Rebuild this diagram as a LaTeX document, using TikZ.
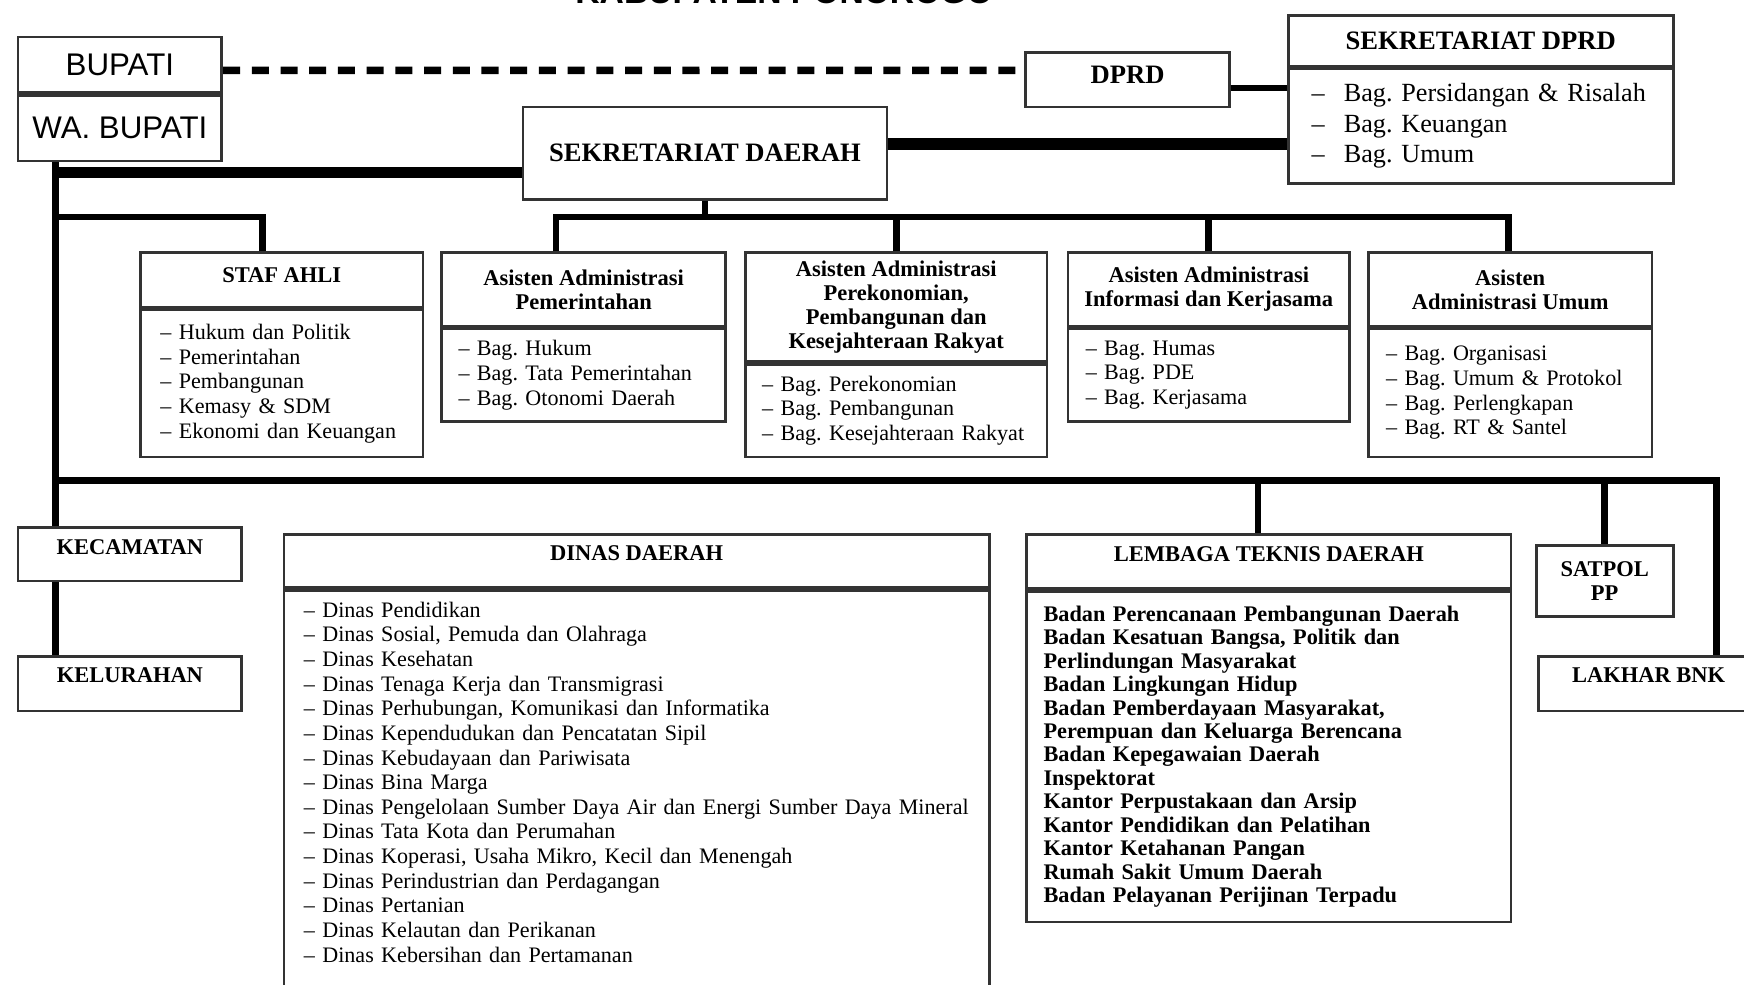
\documentclass[tikz,border=0pt]{standalone}
\usepackage{fontspec}
\setmainfont{Liberation Serif}
\newfontfamily\arialfont{Liberation Sans}
\frenchspacing
\begin{document}
\begin{tikzpicture}[x=0.01cm, y=-0.01cm,
  box/.style={draw=black!80, line width=0.7pt, inner sep=0pt, anchor=north west},
  sans/.style={box, font=\arialfont\fontsize{8}{9}\selectfont},
  big/.style={box, align=center, font=\fontsize{6.8}{8}\selectfont\bfseries},
  hd/.style={box, align=center, font=\fontsize{5.75}{6.1}\selectfont\bfseries},
  lst/.style={box, align=left, font=\fontsize{5.65}{6.3}\selectfont\frenchspacing},
  conn/.style={line width=1.7pt},
  tebal/.style={line width=3pt},
  putus/.style={line width=1.9pt, dash pattern=on 0.153cm off 0.105cm}]
\useasboundingbox (0,0) rectangle (1568,885);
\clip (0,0) rectangle (1568,885);
\node[anchor=base, font=\arialfont\bfseries\fontsize{8.6}{9}\selectfont] (judul) at (705,3) {KABUPATEN PONOROGO};
% pimpinan dan dprd
\node[sans, minimum width=1.83cm, minimum height=0.5cm] (bupati) at (15,32) {BUPATI};
\node[sans, minimum width=1.83cm, minimum height=0.59cm] (wabupati) at (bupati.south west) {WA. BUPATI};
\node[big, minimum width=1.83cm, minimum height=0.49cm, text depth=2.6pt] (dprd) at (921,46) {DPRD};
\node[big, minimum width=3.46cm, minimum height=0.45cm] (sekdprd) at (1157,13) {SEKRETARIAT DPRD};
\node[lst, text width=3.04cm, inner xsep=0.21cm, minimum height=1.03cm, font=\fontsize{6.7}{7.8}\selectfont\frenchspacing] (sekdprdB) at (sekdprd.south west)
  {\makebox[0.29cm][l]{–}Bag. Persidangan \& Risalah\\\makebox[0.29cm][l]{–}Bag. Keuangan\\\makebox[0.29cm][l]{–}Bag. Umum};
\node[big, minimum width=3.27cm, minimum height=0.83cm] (sekda) at (469,95) {SEKRETARIAT DAERAH};
% staf ahli dan asisten
\node[hd, minimum width=2.54cm, minimum height=0.49cm, text depth=2.6pt] (staf) at (125,226) {STAF AHLI};
\node[lst, text width=2.18cm, inner xsep=0.18cm, minimum height=1.32cm] (stafB) at (staf.south west)
  {– Hukum dan Politik\\– Pemerintahan\\– Pembangunan\\– Kemasy \& SDM\\– Ekonomi dan Keuangan};
\node[hd, minimum width=2.55cm, minimum height=0.66cm] (pem) at (396,226) {Asisten Administrasi\\Pemerintahan};
\node[lst, text width=2.25cm, inner xsep=0.15cm, minimum height=0.83cm] (pemB) at (pem.south west)
  {– Bag. Hukum\\– Bag. Tata Pemerintahan\\– Bag. Otonomi Daerah};
\node[hd, minimum width=2.71cm, minimum height=0.98cm] (eko) at (669,226) {Asisten Administrasi\\Perekonomian,\\Pembangunan dan\\Kesejahteraan Rakyat};
\node[lst, text width=2.41cm, inner xsep=0.15cm, minimum height=0.83cm] (ekoB) at (eko.south west)
  {– Bag. Perekonomian\\– Bag. Pembangunan\\– Bag. Kesejahteraan Rakyat};
\node[hd, minimum width=2.53cm, minimum height=0.66cm] (info) at (959,226) {Asisten Administrasi\\Informasi dan Kerjasama};
\node[lst, text width=2.21cm, inner xsep=0.16cm, minimum height=0.83cm] (infoB) at (info.south west)
  {– Bag. Humas\\– Bag. PDE\\– Bag. Kerjasama};
\node[hd, minimum width=2.55cm, minimum height=0.66cm] (umum) at (1229,226) {Asisten\\Administrasi Umum};
\node[lst, text width=2.23cm, inner xsep=0.16cm, minimum height=1.15cm] (umumB) at (umum.south west)
  {– Bag. Organisasi\\– Bag. Umum \& Protokol\\– Bag. Perlengkapan\\– Bag. RT \& Santel};
% bagian bawah
\node[hd, minimum width=2.01cm, minimum height=0.48cm, text depth=3.4pt] (kec) at (15,473) {KECAMATAN};
\node[hd, minimum width=2.01cm, minimum height=0.49cm, text depth=4.2pt] (kel) at (15,589) {KELURAHAN};
\node[hd, minimum width=6.34cm, minimum height=0.48cm, text depth=4pt] (dinas) at (254,479) {DINAS DAERAH};
\node[lst, text width=5.98cm, inner xsep=0.18cm, minimum height=3.72cm, text depth=96pt] (dinasB) at (dinas.south west)
  {– Dinas Pendidikan\\– Dinas Sosial, Pemuda dan Olahraga\\– Dinas Kesehatan\\– Dinas Tenaga Kerja dan Transmigrasi\\
   – Dinas Perhubungan, Komunikasi dan Informatika\\– Dinas Kependudukan dan Pencatatan Sipil\\– Dinas Kebudayaan dan Pariwisata\\
   – Dinas Bina Marga\\\mbox{– Dinas Pengelolaan Sumber Daya Air dan Energi Sumber Daya Mineral}\\– Dinas Tata Kota dan Perumahan\\
   – Dinas Koperasi, Usaha Mikro, Kecil dan Menengah\\– Dinas Perindustrian dan Perdagangan\\– Dinas Pertanian\\
   – Dinas Kelautan dan Perikanan\\– Dinas Kebersihan dan Pertamanan};
\node[hd, minimum width=4.35cm, minimum height=0.49cm, text depth=4pt] (lemb) at (922,479) {LEMBAGA TEKNIS DAERAH};
\node[lst, text width=4.05cm, inner xsep=0.15cm, minimum height=2.97cm, font=\fontsize{5.7}{6}\selectfont\bfseries\frenchspacing] (lembB) at (lemb.south west)
  {Badan Perencanaan Pembangunan Daerah\\Badan Kesatuan Bangsa, Politik dan\\Perlindungan Masyarakat\\Badan Lingkungan Hidup\\
   Badan Pemberdayaan Masyarakat,\\Perempuan dan Keluarga Berencana\\Badan Kepegawaian Daerah\\Inspektorat\\
   Kantor Perpustakaan dan Arsip\\Kantor Pendidikan dan Pelatihan\\Kantor Ketahanan Pangan\\Rumah Sakit Umum Daerah\\
   Badan Pelayanan Perijinan Terpadu};
\node[hd, minimum width=1.23cm, minimum height=0.64cm] (satpol) at (1380,489) {SATPOL\\PP};
\node[hd, minimum width=1.98cm, minimum height=0.49cm, text depth=4.2pt] (lakhar) at (1382,589) {LAKHAR BNK};
% garis
\coordinate (jSekda) at (50,155);
\coordinate (jStaf) at (50,195);
\coordinate (kStaf) at (236,195);
\coordinate (busL) at (500,195);
\coordinate (busR) at (1356,195);
\coordinate (jBawah) at (50,432);
\coordinate (jLemb) at (1131,432);
\coordinate (busE) at (1543,432);
\coordinate (dprdK) at ([yshift=-0.075cm]dprd.east);
\coordinate (sekdaK) at ([yshift=0.085cm]sekda.east);
\draw[putus] ([yshift=-0.05cm]bupati.east) -- ([yshift=0.085cm]dprd.west);
\draw[conn] (dprdK) -- (dprdK -| sekdprdB.west);
\draw[tebal] (sekdaK) -- (sekdaK -| sekdprdB.west);
\draw[conn] (wabupati.south -| jBawah) -- (kec.north -| jBawah);
\draw[conn] (kec.south -| jBawah) -- (kel.north -| jBawah);
\draw[tebal] (jSekda) -- (sekda.west |- jSekda);
\draw[conn] (jStaf) -- (kStaf) -- (kStaf |- staf.north);
\draw[conn] (sekda.south) -- (sekda.south |- busL);
\draw[conn] (busL |- pem.north) -- (busL) -- (busR) -- (busR |- umum.north);
\draw[conn] (eko.north) -- (eko.north |- busL);
\draw[conn] (info.north) -- (info.north |- busL);
\draw[conn] (jBawah) -- (busE) -- (busE |- lakhar.north);
\draw[conn] (jLemb) -- (jLemb |- lemb.north);
\draw[conn] (satpol.north) -- (satpol.north |- busE);
\end{tikzpicture}
\end{document}
